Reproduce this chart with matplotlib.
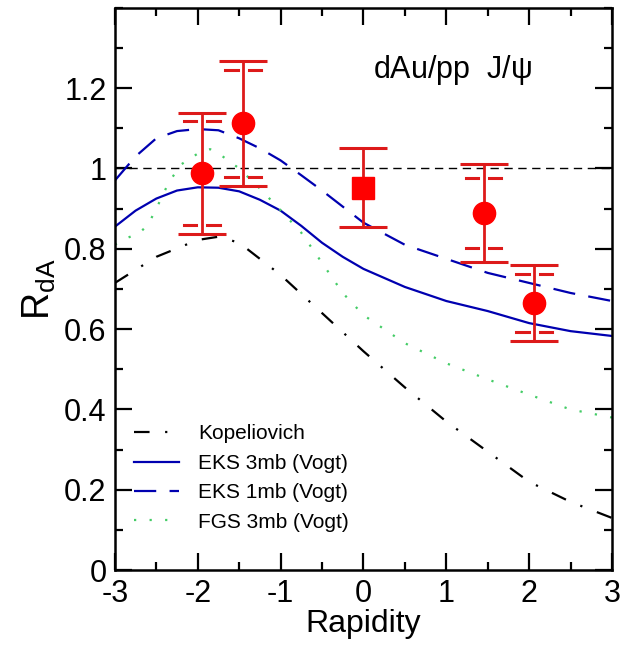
import numpy as np
import matplotlib
matplotlib.use('Agg')
import matplotlib.pyplot as plt
from matplotlib.ticker import MultipleLocator, FormatStrFormatter

plt.rcParams['font.family'] = ['Liberation Sans', 'DejaVu Sans']
plt.rcParams['mathtext.fontset'] = 'custom'
plt.rcParams['mathtext.rm'] = 'Liberation Sans'
plt.rcParams['mathtext.it'] = 'Liberation Sans'
plt.rcParams['axes.unicode_minus'] = False

# model curves
kop_x = [-3, -2.5, -2, -1.75, -1.5, -1, -0.5, 0, 0.5, 1, 1.5, 2, 2.5, 3]
kop_y = [0.715, 0.78, 0.822, 0.83, 0.815, 0.735, 0.64, 0.545, 0.455, 0.37, 0.295, 0.22, 0.17, 0.13]

eks3_x = [-3, -2.75, -2.5, -2.25, -2, -1.75, -1.5, -1.25, -1, -0.75, -0.5, -0.25, 0, 0.5, 1, 1.5, 2, 2.5, 3]
eks3_y = [0.855, 0.895, 0.925, 0.945, 0.953, 0.952, 0.943, 0.922, 0.895, 0.857, 0.815, 0.78, 0.75, 0.705, 0.67, 0.645, 0.615, 0.595, 0.583]

eks1_x = [-3, -2.75, -2.5, -2.25, -2, -1.75, -1.5, -1.25, -1, -0.75, -0.5, -0.25, 0, 0.5, 1, 1.5, 2, 2.5, 3]
eks1_y = [0.97, 1.03, 1.075, 1.093, 1.098, 1.095, 1.075, 1.05, 1.02, 0.983, 0.945, 0.905, 0.865, 0.81, 0.775, 0.74, 0.715, 0.69, 0.67]

fgs_x = [-3, -2.85, -2.7, -2.6, -2.5, -2.35, -2.2, -2, -1.85, -1.7, -1.5, -1.25, -1, -0.75, -0.5, -0.25, 0, 0.5, 1, 1.5, 2, 2.5, 3]
fgs_y = [0.81, 0.827, 0.84, 0.86, 0.9, 0.965, 1.01, 1.037, 1.048, 1.03, 1.0, 0.95, 0.896, 0.84, 0.765, 0.69, 0.635, 0.565, 0.515, 0.475, 0.437, 0.4, 0.38]

# data points
circ_x = [-1.95, -1.45, 1.45, 2.06]
circ_y = [0.988, 1.112, 0.89, 0.665]
circ_err = [0.151, 0.156, 0.122, 0.095]
circ_sys = [0.13, 0.133, 0.087, 0.072]

sq_x = [0.0]
sq_y = [0.952]
sq_err = [0.099]

red = '#ff0000'
barred = '#dd1a1a'

fig = plt.figure(figsize=(6.21, 6.45), dpi=100)
ax = fig.add_axes([0.185, 0.116, 0.8005, 0.872])

ax.axhline(1.0, color='black', lw=1.0, ls=(0, (6, 4)), zorder=1)

ax.plot(kop_x, kop_y, color='black', lw=1.6, ls=(0, (7, 7, 1, 7)), label='Kopeliovich')
ax.plot(eks3_x, eks3_y, color='#0000b0', lw=1.6, ls='-', label='EKS 3mb (Vogt)')
ax.plot(eks1_x, eks1_y, color='#0000b0', lw=1.6, ls=(0, (10, 6)), label='EKS 1mb (Vogt)')
ax.plot(fgs_x, fgs_y, color='#44cc66', lw=1.6, ls=(0, (1, 6)), label='FGS 3mb (Vogt)')

# systematic error dashes
for x, y, s in zip(circ_x, circ_y, circ_sys):
    for yy in (y + s, y - s):
        ax.plot([x - 0.215, x - 0.065], [yy, yy], color=barred, lw=2.2, zorder=4)
        ax.plot([x + 0.065, x + 0.215], [yy, yy], color=barred, lw=2.2, zorder=4)

ax.errorbar(circ_x, circ_y, yerr=circ_err, fmt='o', color=red, ecolor=barred,
            ms=16, elinewidth=2.0, capsize=17, capthick=2.2, zorder=5)
ax.errorbar(sq_x, sq_y, yerr=sq_err, fmt='s', color=red, ecolor=barred,
            ms=16, elinewidth=2.0, capsize=17, capthick=2.2, zorder=5)

ax.text(0.12, 1.225, r'dAu/pp  J/$\psi$', fontsize=22)

ax.set_xlim(-3, 3)
ax.set_ylim(0, 1.4)
ax.xaxis.set_major_locator(MultipleLocator(1))
ax.xaxis.set_minor_locator(MultipleLocator(0.5))
ax.yaxis.set_minor_locator(MultipleLocator(0.1))
ax.yaxis.set_major_formatter(FormatStrFormatter('%g'))
ax.set_yticks([0, 0.2, 0.4, 0.6, 0.8, 1.0, 1.2])
ax.tick_params(which='both', direction='in', top=True, right=True, width=1.6)
ax.tick_params(which='major', length=12, labelsize=22, pad=6)
ax.tick_params(which='minor', length=6)
for sp in ax.spines.values():
    sp.set_linewidth(1.8)

ax.set_xlabel('Rapidity', fontsize=23, labelpad=0)
ax.set_ylabel(r'R$_{\rm dA}$', fontsize=27, labelpad=4)

ax.legend(loc='lower left', bbox_to_anchor=(0.0, 0.035), frameon=False, fontsize=15,
          handlelength=2.2, handletextpad=0.9, labelspacing=0.5)

fig.savefig('out.png', dpi=100)
